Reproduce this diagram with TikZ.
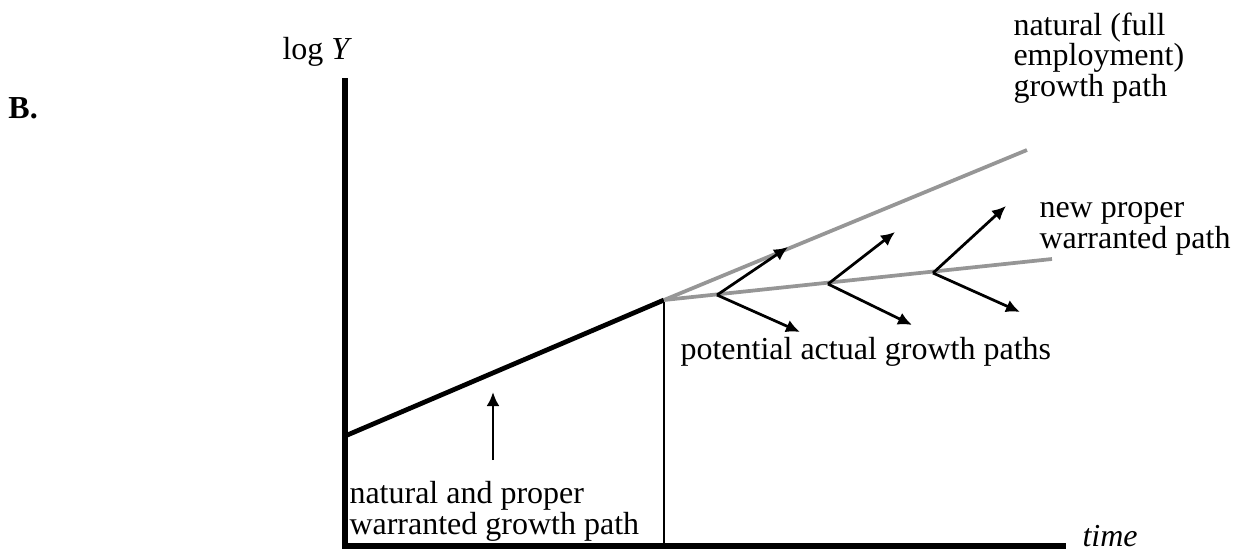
\documentclass[tikz,border=0pt]{standalone}
\usepackage{fontspec}
\setmainfont{Liberation Serif}
\usetikzlibrary{arrows.meta,positioning}
\definecolor{pathgray}{RGB}{150,150,150}
\tikzset{
  axis/.style={line width=2.6pt},
  growth/.style={line width=1.9pt},
  split/.style={line width=0.9pt},
  newpath/.style={line width=1.5pt,draw=pathgray},
  arr/.style={-{Latex[length=5.6pt,width=5.2pt]},line width=1.1pt},
  lbl/.style={align=left,inner sep=0pt,anchor=north west,font=\fontsize{12.8}{12.2}\selectfont}
}

\begin{document}
\begin{tikzpicture}[x=0.4pt,y=-0.4pt]
\useasboundingbox (0,0) rectangle (1246,553);
% axes
\coordinate (o) at (345,546);
\coordinate (ytop) at (345,78);
\coordinate (xend) at (1066,546);
\draw[axis] (ytop) -- (o) -- (xend);
\node[lbl] (logy) at (282,37) {log \textit{Y}};
\node[lbl] (time) at (1082,525) {\textit{time}};
\node[lbl,font=\fontsize{12.8}{12}\selectfont\bfseries] (panel) at (8,97) {B.};
% old growth path
\coordinate (start) at (345,436);
\coordinate (kink) at (664,300);
\coordinate (kinkfoot) at (664,546);
\draw[growth] (start) -- (kink);
\draw[split] (kink) -- (kinkfoot);
\coordinate (arrfoot) at (493,460);
\coordinate (arrtip) at (493,392);
\draw[arr] (arrfoot) -- (arrtip);
\node[lbl] (oldlbl) at (349,481) {natural and proper\\warranted growth path};
% new paths
\coordinate (natend) at (1027,150);
\coordinate (warend) at (1052,259);
\draw[newpath] (kink) -- (natend);
\draw[newpath] (kink) -- (warend);
\node[lbl] (natlbl) at (1013,12) {natural (full\\employment)\\growth path};
\node[lbl] (warlbl) at (1039,202) {new proper\\warranted path};
% potential actual paths
\coordinate (b1) at (717,295);
\coordinate (b2) at (828,284);
\coordinate (b3) at (933,273);
\coordinate (u1) at (788,247);
\coordinate (u2) at (895,232);
\coordinate (u3) at (1006,206);
\coordinate (d1) at (800,332);
\coordinate (d2) at (912,325);
\coordinate (d3) at (1020,312);
\foreach \i in {1,2,3} {
  \draw[arr] (b\i) -- (u\i);
  \draw[arr] (b\i) -- (d\i);
}
\node[lbl] (actlbl) at (680,337) {potential actual growth paths};
\end{tikzpicture}
\end{document}
